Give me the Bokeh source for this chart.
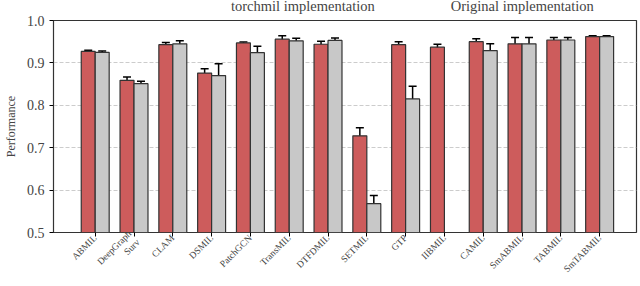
import math
from bokeh.plotting import figure
from bokeh.layouts import column
from bokeh.models import (ColumnDataSource, Whisker, TeeHead, FixedTicker, Legend, LegendItem, Range1d)
from bokeh.embed import file_html
from bokeh.resources import INLINE

methods = ["ABMIL", "DeepGraph\nSurv", "CLAM", "DSMIL", "PatchGCN", "TransMIL", "DTFDMIL",
           "SETMIL", "GTP", "IIBMIL", "CAMIL", "SmABMIL", "TABMIL", "SmTABMIL"]
torchmil_mean = [0.927, 0.859, 0.943, 0.876, 0.947, 0.956, 0.944, 0.728, 0.943, 0.937, 0.950, 0.945, 0.954, 0.962]
torchmil_err  = [0.003, 0.008, 0.005, 0.010, 0.002, 0.008, 0.007, 0.019, 0.007, 0.007, 0.007, 0.015, 0.006, 0.002]
orig_mean = [0.925, 0.851, 0.945, 0.870, 0.924, 0.952, 0.953, 0.568, 0.815, float("nan"), 0.929, 0.945, 0.954, 0.962]
orig_err  = [0.003, 0.006, 0.007, 0.028, 0.015, 0.006, 0.006, 0.019, 0.030, float("nan"), 0.016, 0.015, 0.006, 0.002]
y_ticks = [0.5, 0.6, 0.7, 0.8, 0.9, 1.0]

RED = "#CD5C5C"
GRAY = "#C8C8C8"
EDGE = "#333333"
SERIF = "Liberation Serif"

BW = 0.36
idx = list(range(len(methods)))
red_src = ColumnDataSource(dict(x=[i - BW / 2 for i in idx], top=torchmil_mean,
                                upper=[m + e for m, e in zip(torchmil_mean, torchmil_err)],
                                lower=[m - e for m, e in zip(torchmil_mean, torchmil_err)]))
gray_src = ColumnDataSource(dict(x=[i + BW / 2 for i in idx], top=orig_mean,
                                 upper=[m + e for m, e in zip(orig_mean, orig_err)],
                                 lower=[m - e for m, e in zip(orig_mean, orig_err)]))

# ---- legend strip (separate small figure above the chart) ----
lf = figure(width=640, height=15, output_backend="svg", toolbar_location=None,
            x_range=Range1d(0, 1), y_range=Range1d(0, 1),
            x_axis_location=None, y_axis_location=None, min_border=0)
lf.grid.grid_line_color = None
lf.outline_line_color = None
empty = ColumnDataSource(dict(x=[], top=[]))
lr = lf.vbar(x="x", top="top", width=0.1, source=empty, fill_color=RED, line_color=EDGE, line_width=1.2)
lg = lf.vbar(x="x", top="top", width=0.1, source=empty, fill_color=GRAY, line_color=EDGE, line_width=1.2)
legend = Legend(items=[LegendItem(label="torchmil implementation", renderers=[lr]),
                       LegendItem(label="Original implementation", renderers=[lg])],
                orientation="horizontal", location=(138, 0),
                label_text_font=SERIF, label_text_font_size="14.5px",
                glyph_width=28, glyph_height=10, label_height=12,
                padding=0, margin=0, spacing=36, label_standoff=12,
                border_line_color=None, background_fill_alpha=0)
lf.add_layout(legend, "center")

# ---- main chart ----
p = figure(width=640, height=271, output_backend="svg", toolbar_location=None,
           x_range=Range1d(-1.075, 13.95), y_range=Range1d(0.5, 1.0),
           min_border_left=40, min_border_right=4, min_border_top=5, min_border_bottom=54)

p.vbar(x="x", top="top", bottom=0.5, width=BW, source=red_src,
       fill_color=RED, line_color=EDGE, line_width=1.2)
p.vbar(x="x", top="top", bottom=0.5, width=BW, source=gray_src,
       fill_color=GRAY, line_color=EDGE, line_width=1.2)

for src in (red_src, gray_src):
    w = Whisker(base="x", upper="upper", lower="lower", source=src,
                line_color="black", line_width=1.5,
                upper_head=TeeHead(size=8, line_color="black", line_width=1.5),
                lower_head=TeeHead(size=8, line_color="black", line_width=1.5))
    p.add_layout(w)

p.xaxis.ticker = FixedTicker(ticks=idx)
p.xaxis.major_label_overrides = {i: m for i, m in enumerate(methods)}
p.xaxis.major_label_orientation = math.pi / 4
p.xaxis.minor_tick_line_color = None
p.xaxis.major_label_text_font = SERIF
p.xaxis.major_label_text_font_size = "9.5px"
p.xaxis.major_label_standoff = 0
p.xaxis.major_tick_out = 4
p.xaxis.major_tick_in = 0
p.xaxis.axis_line_color = None

p.yaxis.ticker = FixedTicker(ticks=y_ticks)
p.yaxis.major_label_overrides = {t: f"{t:.1f}" for t in y_ticks}
p.yaxis.minor_tick_line_color = None
p.yaxis.major_label_text_font = SERIF
p.yaxis.major_label_text_font_size = "14px"
p.yaxis.major_tick_out = 4
p.yaxis.major_tick_in = 0
p.yaxis.axis_line_color = None
p.yaxis.axis_label = "Performance"
p.yaxis.axis_label_text_font = SERIF
p.yaxis.axis_label_text_font_style = "normal"
p.yaxis.axis_label_text_font_size = "12px"
p.yaxis.axis_label_standoff = 6

p.xgrid.grid_line_color = None
p.ygrid.grid_line_color = "#cccccc"
p.ygrid.grid_line_dash = "4 2"
p.ygrid.grid_line_width = 1

p.outline_line_color = EDGE
p.outline_line_width = 1.2

layout = column(lf, p, spacing=0)
open("out.html", "w").write(file_html(layout, INLINE))
